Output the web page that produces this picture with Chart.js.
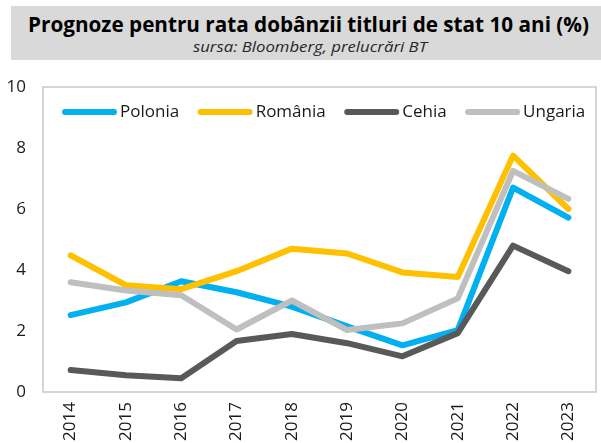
<!DOCTYPE html>
<html>
<head>
<meta charset="utf-8">
<script src="https://cdn.jsdelivr.net/npm/chart.js@4"></script>
<style>
  html, body { margin:0; padding:0; background:#fff; }
  #wrap { position:relative; width:601px; height:443px; overflow:hidden; }
  #hdr { position:absolute; left:11px; top:6px; width:590px; height:54px; background:#d9d9d9; }
  .t { position:absolute; white-space:nowrap; font-family:'Open Sans', sans-serif; transform-origin:0 50%; }
  #t1 { font-weight:700; color:#000; }
  #t2 { font-style:italic; color:#262626; }
  canvas { position:absolute; left:0; top:0; }
</style>
</head>
<body>
<div id="wrap">
  <div id="hdr"></div>
  <div id="t1" class="t">Prognoze pentru rata dobânzii titluri de stat 10 ani (%)</div>
  <div id="t2" class="t">sursa: Bloomberg, prelucrări BT</div>
  <canvas id="c" width="601" height="443"></canvas>
</div>
<script>
const categories = ['2014','2015','2016','2017','2018','2019','2020','2021','2022','2023'];
const seriesNames = ['Polonia','România','Cehia','Ungaria'];
const polonia = [2.52, 2.94, 3.63, 3.27, 2.80, 2.15, 1.53, 2.03, 6.70, 5.72];
const romania = [4.48, 3.50, 3.37, 3.96, 4.70, 4.54, 3.92, 3.77, 7.75, 6.00];
const cehia   = [0.72, 0.55, 0.45, 1.67, 1.90, 1.60, 1.17, 1.93, 4.80, 3.96];
const ungaria = [3.60, 3.33, 3.17, 2.05, 3.00, 2.03, 2.25, 3.07, 7.25, 6.33];
const yTicks = { min: 0, max: 10, step: 2 };
const colors = ['#00b0f0', '#ffc000', '#595959', '#bfbfbf'];

function fit(id, size, targetW, left, centerY) {
  const el = document.getElementById(id);
  el.style.fontSize = size + 'px';
  el.style.lineHeight = size + 'px';
  const w = el.getBoundingClientRect().width;
  el.style.transform = 'scaleX(' + (targetW / w) + ')';
  el.style.left = left + 'px';
  el.style.top = (centerY - size / 2) + 'px';
}
fit('t1', 20.5, 561, 28, 24);
fit('t2', 15, 234, 193, 46);

const allData = [polonia, romania, cehia, ungaria];
const datasets = allData.map((d, i) => ({
  label: seriesNames[i],
  data: d,
  borderColor: colors[i],
  backgroundColor: colors[i],
  borderWidth: 6,
  borderCapStyle: 'round',
  borderJoinStyle: 'round',
  pointRadius: 0,
  pointHoverRadius: 0,
  tension: 0,
  fill: false,
  order: -i
}));

const frame = {
  id: 'frame',
  afterDraw(chart) {
    const { ctx, chartArea: a } = chart;
    ctx.save();
    ctx.strokeStyle = '#c8c8c8';
    ctx.lineWidth = 1.5;
    ctx.strokeRect(a.left, a.top, a.right - a.left, a.bottom - a.top);
    // legend
    ctx.font = '17px "Open Sans", sans-serif';
    ctx.textBaseline = 'middle';
    ctx.textAlign = 'left';
    let x = 62;
    const y = 112;
    chart.data.datasets.forEach((ds) => {
      ctx.strokeStyle = ds.borderColor;
      ctx.lineWidth = 6;
      ctx.lineCap = 'round';
      ctx.beginPath();
      ctx.moveTo(x + 3, y);
      ctx.lineTo(x + 52, y);
      ctx.stroke();
      ctx.fillStyle = '#1a1a1a';
      ctx.fillText(ds.label, x + 58, y);
      x += 58 + ctx.measureText(ds.label).width + 18.5;
    });
    ctx.restore();
  }
};

new Chart(document.getElementById('c'), {
  type: 'line',
  data: { labels: categories, datasets },
  options: {
    responsive: false,
    animation: false,
    devicePixelRatio: 1,
    layout: { padding: { left: 0, right: 5, top: 87, bottom: 0 } },
    plugins: { legend: { display: false }, tooltip: { enabled: false } },
    scales: {
      x: {
        offset: true,
        grid: { display: false, drawTicks: false },
        border: { display: false },
        ticks: {
          minRotation: 90, maxRotation: 90, padding: 10,
          color: '#1a1a1a',
          font: { family: '"Open Sans", sans-serif', size: 17 }
        },
        afterFit(s) { s.height = 51; }
      },
      y: {
        min: yTicks.min, max: yTicks.max,
        grid: { display: false, drawTicks: false },
        border: { display: false },
        ticks: {
          stepSize: yTicks.step, padding: 17,
          color: '#1a1a1a',
          font: { family: '"Open Sans", sans-serif', size: 17 }
        },
        afterFit(s) { s.width = 43; }
      }
    }
  },
  plugins: [frame]
});
</script>
</body>
</html>
